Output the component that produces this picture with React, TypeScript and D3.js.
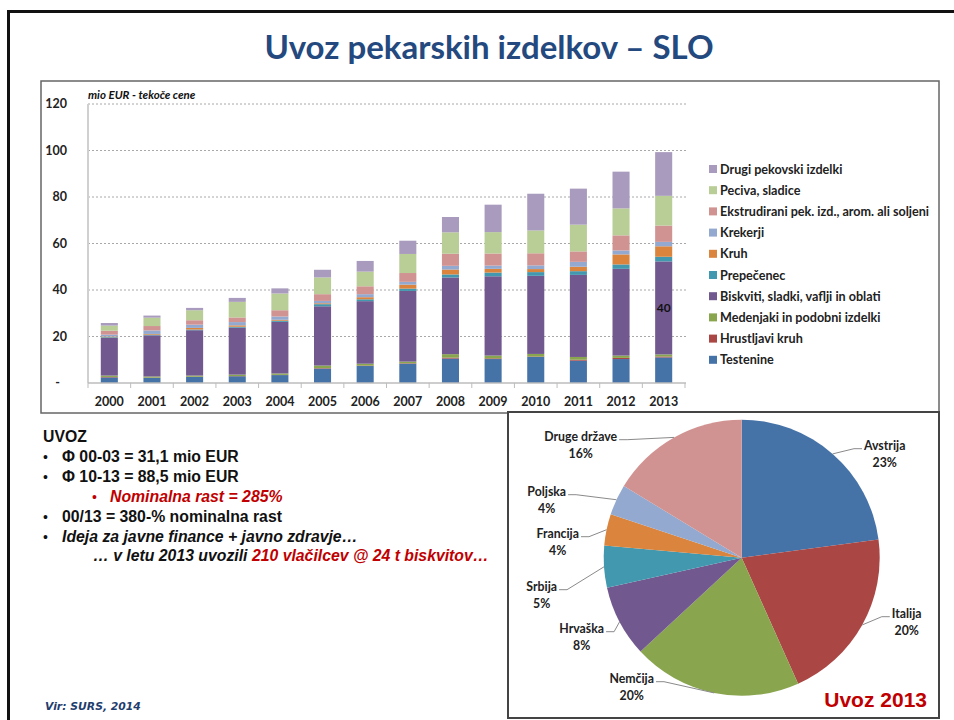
import React, { useEffect, useRef } from 'react';
import * as d3 from 'd3';

// categories
const years = ['2000', '2001', '2002', '2003', '2004', '2005', '2006', '2007', '2008', '2009', '2010', '2011', '2012', '2013'];

// series, bottom of stack first (mio EUR)
const testenine = [2.4, 2.2, 2.6, 2.9, 3.4, 6.2, 7.3, 8.3, 10.5, 10.3, 11.2, 9.6, 10.3, 11.0];
const hrustljavi = [0.2, 0.1, 0.1, 0.1, 0.1, 0.2, 0.2, 0.2, 0.4, 0.3, 0.2, 0.4, 0.5, 0.4];
const medenjaki = [0.6, 0.5, 0.5, 0.6, 0.6, 1.1, 0.8, 0.7, 1.5, 1.2, 1.1, 1.2, 1.0, 0.9];
const biskviti = [16.2, 17.7, 19.5, 20.2, 22.2, 25.5, 26.9, 30.4, 33.0, 34.1, 33.6, 35.3, 37.3, 40.0];
const prepecenec = [0.3, 0.3, 0.3, 0.4, 0.5, 0.9, 0.8, 1.0, 1.3, 1.6, 1.6, 1.6, 1.9, 2.0];
const kruh = [0.3, 0.3, 0.7, 0.6, 0.4, 0.4, 0.9, 1.7, 2.1, 1.6, 1.3, 1.9, 4.3, 4.5];
const krekerji = [0.8, 1.5, 1.4, 1.4, 1.4, 1.0, 1.3, 1.2, 1.6, 1.4, 1.6, 2.1, 1.7, 1.9];
const ekstrudirani = [1.7, 1.9, 1.9, 2.0, 2.7, 2.9, 3.4, 3.8, 5.2, 5.2, 5.2, 4.5, 6.5, 7.0];
const peciva = [2.2, 3.6, 4.3, 6.7, 7.2, 7.2, 6.3, 8.2, 9.2, 9.2, 9.8, 11.5, 11.6, 12.8];
const drugi = [1.1, 0.9, 1.0, 1.7, 2.2, 3.3, 4.6, 5.7, 6.6, 11.8, 15.8, 15.5, 15.8, 18.8];

const seriesNames = [
  'Testenine',
  'Hrustljavi kruh',
  'Medenjaki in podobni izdelki',
  'Biskviti, sladki, vaflji in oblati',
  'Prepečenec',
  'Kruh',
  'Krekerji',
  'Ekstrudirani pek. izd., arom. ali soljeni',
  'Peciva, sladice',
  'Drugi pekovski izdelki',
];
const seriesValues = [testenine, hrustljavi, medenjaki, biskviti, prepecenec, kruh, krekerji, ekstrudirani, peciva, drugi];
const seriesColors = ['#4572A7', '#AA4643', '#89A54E', '#71588F', '#4198AF', '#DB843D', '#93A9CF', '#D19392', '#B9CD96', '#A99BBD'];

const yTicks = [0, 20, 40, 60, 80, 100, 120];
const yTickLabels = ['-', '20', '40', '60', '80', '100', '120'];

// pie: import 2013 by country (%)
const countries = ['Avstrija', 'Italija', 'Nemčija', 'Hrvaška', 'Srbija', 'Francija', 'Poljska', 'Druge države'];
const countryShares = [22.9, 20.4, 19.8, 8.4, 4.9, 3.7, 3.6, 16.3];
const countryColors = ['#4572A7', '#AA4643', '#89A54E', '#71588F', '#4198AF', '#DB843D', '#93A9CF', '#D19392'];

// label placement around the pie (offset from pie centre)
const pieLabelOffset: Record<string, [number, number]> = {
  'Avstrija': [143, -104],
  'Italija': [165, 64],
  'Nemčija': [-110, 129],
  'Hrvaška': [-160, 79],
  'Srbija': [-200, 37],
  'Francija': [-184, -16],
  'Poljska': [-195, -58],
  'Druge države': [-161, -113],
};

const W = 954;
const H = 720;

const App = () => {
  const svgRef = useRef<SVGSVGElement>(null);

  useEffect(() => {
    const svg = d3.select(svgRef.current);
    svg.selectAll('*').remove();

    const calibri = 'Lato, "Open Sans", sans-serif';
    const arial = '"Liberation Sans", Arial, sans-serif';

    svg.append('rect').attr('width', W).attr('height', H).attr('fill', '#fff');

    // slide frame
    svg.append('rect')
      .attr('x', 8.5).attr('y', 11.5).attr('width', 1000).attr('height', 1000)
      .attr('fill', 'none').attr('stroke', '#111').attr('stroke-width', 3);

    // title
    svg.append('text')
      .attr('x', 489).attr('y', 59)
      .attr('text-anchor', 'middle')
      .style('font-family', calibri)
      .style('font-weight', 'bold')
      .style('font-size', '33px')
      .style('fill', '#24497F')
      .text('Uvoz pekarskih izdelkov – SLO');

    // chart box
    svg.append('rect')
      .attr('x', 41).attr('y', 81).attr('width', 898).attr('height', 332)
      .attr('fill', '#fff').attr('stroke', '#666').attr('stroke-width', 1.5);

    const x = d3.scaleBand<string>()
      .domain(years)
      .range([88, 685])
      .paddingInner(0.6)
      .paddingOuter(0.3);

    const y = d3.scaleLinear().domain([0, 120]).range([383, 104]);

    // gridlines
    svg.append('g')
      .selectAll('line')
      .data(yTicks.filter(t => t > 0))
      .join('line')
      .attr('x1', 88).attr('x2', 686)
      .attr('y1', d => y(d)).attr('y2', d => y(d))
      .attr('stroke', '#a8a8a8')
      .attr('stroke-width', 1)
      .attr('stroke-dasharray', '2,2');

    // y axis line
    svg.append('line')
      .attr('x1', 88).attr('x2', 88).attr('y1', y(120)).attr('y2', y(0))
      .attr('stroke', '#d0d0d0').attr('stroke-width', 2);

    // y labels
    svg.append('g')
      .selectAll('text')
      .data(yTicks)
      .join('text')
      .attr('x', (d, i) => (i === 0 ? 60 : 67))
      .attr('y', d => y(d) + 4)
      .attr('text-anchor', 'end')
      .style('font-family', calibri)
      .style('font-weight', 'bold')
      .style('font-size', '12.5px')
      .style('fill', '#222')
      .text((d, i) => yTickLabels[i]);

    // unit label
    svg.append('text')
      .attr('x', 88).attr('y', 99)
      .style('font-family', calibri)
      .style('font-weight', 'bold')
      .style('font-style', 'italic')
      .style('font-size', '11.5px')
      .style('fill', '#111')
      .text('mio EUR - tekoče cene');

    // stacked bars
    const table = years.map((yr, i) => {
      const row: Record<string, any> = { year: yr };
      seriesNames.forEach((s, j) => { row[s] = seriesValues[j][i]; });
      return row;
    });
    const stacked = d3.stack().keys(seriesNames)(table as any);

    const layers = svg.append('g')
      .selectAll('g')
      .data(stacked)
      .join('g')
      .attr('fill', (d, i) => seriesColors[i]);

    layers.selectAll('rect')
      .data(d => d)
      .join('rect')
      .attr('x', (d: any) => x(d.data.year) as number)
      .attr('width', x.bandwidth())
      .attr('y', d => y(d[1]))
      .attr('height', d => y(d[0]) - y(d[1]));

    // data label on last biskviti segment
    const bisk = stacked[3][years.length - 1];
    svg.append('text')
      .attr('x', (x('2013') as number) + x.bandwidth() / 2)
      .attr('y', y((bisk[0] + bisk[1]) / 2) + 4)
      .attr('text-anchor', 'middle')
      .style('font-family', calibri)
      .style('font-weight', 'bold')
      .style('font-size', '12px')
      .style('fill', '#111')
      .text(String(Math.round(biskviti[years.length - 1])));

    // x axis
    svg.append('line')
      .attr('x1', 88).attr('x2', 686).attr('y1', y(0)).attr('y2', y(0))
      .attr('stroke', '#bdbdbd').attr('stroke-width', 1.5);
    svg.append('g')
      .selectAll('line')
      .data(d3.range(years.length + 1))
      .join('line')
      .attr('x1', i => 88 + i * x.step()).attr('x2', i => 88 + i * x.step())
      .attr('y1', y(0)).attr('y2', y(0) + 5)
      .attr('stroke', '#bdbdbd').attr('stroke-width', 1);
    svg.append('g')
      .selectAll('text')
      .data(years)
      .join('text')
      .attr('x', d => (x(d) as number) + x.bandwidth() / 2)
      .attr('y', 406)
      .attr('text-anchor', 'middle')
      .style('font-family', calibri)
      .style('font-weight', 'bold')
      .style('font-size', '12.5px')
      .style('fill', '#222')
      .text(d => d);

    // legend
    const legend = svg.append('g').attr('transform', 'translate(709, 169)');
    const legendItems = legend.selectAll('g')
      .data(seriesNames.map((n, i) => i).reverse())
      .join('g')
      .attr('transform', (d, i) => `translate(0, ${i * 21.2})`);
    legendItems.append('rect')
      .attr('x', 0).attr('y', -4).attr('width', 8).attr('height', 8)
      .attr('fill', d => seriesColors[d]);
    legendItems.append('text')
      .attr('x', 11).attr('y', 4.5)
      .style('font-family', calibri)
      .style('font-weight', 'bold')
      .style('font-size', '12.6px')
      .style('fill', '#222')
      .text(d => seriesNames[d]);

    // text block
    const tb = svg.append('g').style('font-family', arial).style('font-weight', 'bold').style('font-size', '15.8px');
    const lines = [
      { y: 442, bullet: false, x: 43, parts: [{ t: 'UVOZ', c: '#111', i: false }] },
      { y: 462, bullet: true, bx: 43, x: 62, parts: [{ t: 'Φ 00-03 = 31,1 mio EUR', c: '#111', i: false }] },
      { y: 482, bullet: true, bx: 43, x: 62, parts: [{ t: 'Φ 10-13 = 88,5 mio EUR', c: '#111', i: false }] },
      { y: 502, bullet: true, bx: 92, x: 110, bc: '#C00000', parts: [{ t: 'Nominalna rast = 285%', c: '#C00000', i: true }] },
      { y: 522, bullet: true, bx: 43, x: 62, parts: [{ t: '00/13 = 380-% nominalna rast', c: '#111', i: false }] },
      { y: 542, bullet: true, bx: 43, x: 62, parts: [{ t: 'Ideja za javne finance + javno zdravje…', c: '#111', i: true }] },
      { y: 561, bullet: false, x: 93, parts: [{ t: '… v letu 2013 uvozili ', c: '#111', i: true }, { t: '210 vlačilcev @ 24 t biskvitov…', c: '#C00000', i: true }] },
    ];
    lines.forEach(l => {
      if (l.bullet) {
        tb.append('text').attr('x', (l as any).bx).attr('y', l.y)
          .style('fill', (l as any).bc || '#111').style('font-weight', 'normal').style('font-size', '14px').text('•');
      }
      const t = tb.append('text').attr('x', l.x).attr('y', l.y).attr('xml:space', 'preserve');
      l.parts.forEach(p => {
        t.append('tspan').style('fill', p.c).style('font-style', p.i ? 'italic' : 'normal').text(p.t);
      });
    });

    // source
    svg.append('text')
      .attr('x', 45).attr('y', 710)
      .style('font-family', '"DejaVu Sans", sans-serif')
      .style('font-weight', 'bold')
      .style('font-style', 'italic')
      .style('font-size', '10.8px')
      .style('fill', '#1F3D6E')
      .text('Vir: SURS, 2014');

    // pie box
    svg.append('rect')
      .attr('x', 508).attr('y', 412).attr('width', 431).attr('height', 306)
      .attr('fill', '#fff').attr('stroke', '#444').attr('stroke-width', 2);

    const cx = 741.7;
    const cy = 557.7;
    const r = 138;
    const pie = d3.pie<number>().sort(null).value(d => d);
    const arcs = pie(countryShares);
    const arc = d3.arc<d3.PieArcDatum<number>>().innerRadius(0).outerRadius(r);
    const edgeArc = d3.arc<d3.PieArcDatum<number>>().innerRadius(r).outerRadius(r);

    const pg = svg.append('g').attr('transform', `translate(${cx}, ${cy})`);
    pg.selectAll('path')
      .data(arcs)
      .join('path')
      .attr('d', arc)
      .attr('fill', (d, i) => countryColors[i]);

    // labels with leader lines
    arcs.forEach((a, i) => {
      const name = countries[i];
      const [dx, dy] = pieLabelOffset[name];
      const g = pg.append('g');
      const nameText = g.append('text')
        .attr('x', dx).attr('y', dy - 4)
        .attr('text-anchor', 'middle')
        .style('font-family', calibri)
        .style('font-weight', 'bold')
        .style('font-size', '12.3px')
        .style('fill', '#222')
        .text(name);
      g.append('text')
        .attr('x', dx).attr('y', dy + 13)
        .attr('text-anchor', 'middle')
        .style('font-family', calibri)
        .style('font-weight', 'bold')
        .style('font-size', '12.3px')
        .style('fill', '#222')
        .text(`${Math.round(a.value)}%`);
      const w = (nameText.node() as SVGTextElement).getComputedTextLength();
      const [sx, sy] = edgeArc.centroid(a);
      const dir = dx > 0 ? 1 : -1;
      const ex = dx - dir * (w / 2 + 2);
      const ey = dy - 5;
      g.insert('polyline', 'text')
        .attr('points', `${sx},${sy} ${ex - dir * 8},${ey} ${ex},${ey}`)
        .attr('fill', 'none')
        .attr('stroke', '#8a8a8a')
        .attr('stroke-width', 1);
    });

    svg.append('text')
      .attr('x', 927).attr('y', 707)
      .attr('text-anchor', 'end')
      .style('font-family', arial)
      .style('font-weight', 'bold')
      .style('font-size', '21px')
      .style('fill', '#C00000')
      .text('Uvoz 2013');
  }, []);

  return (
    <svg
      ref={svgRef}
      width={W}
      height={H}
      style={{ position: 'absolute', left: 0, top: 0, display: 'block' }}
    />
  );
};

export default App;
